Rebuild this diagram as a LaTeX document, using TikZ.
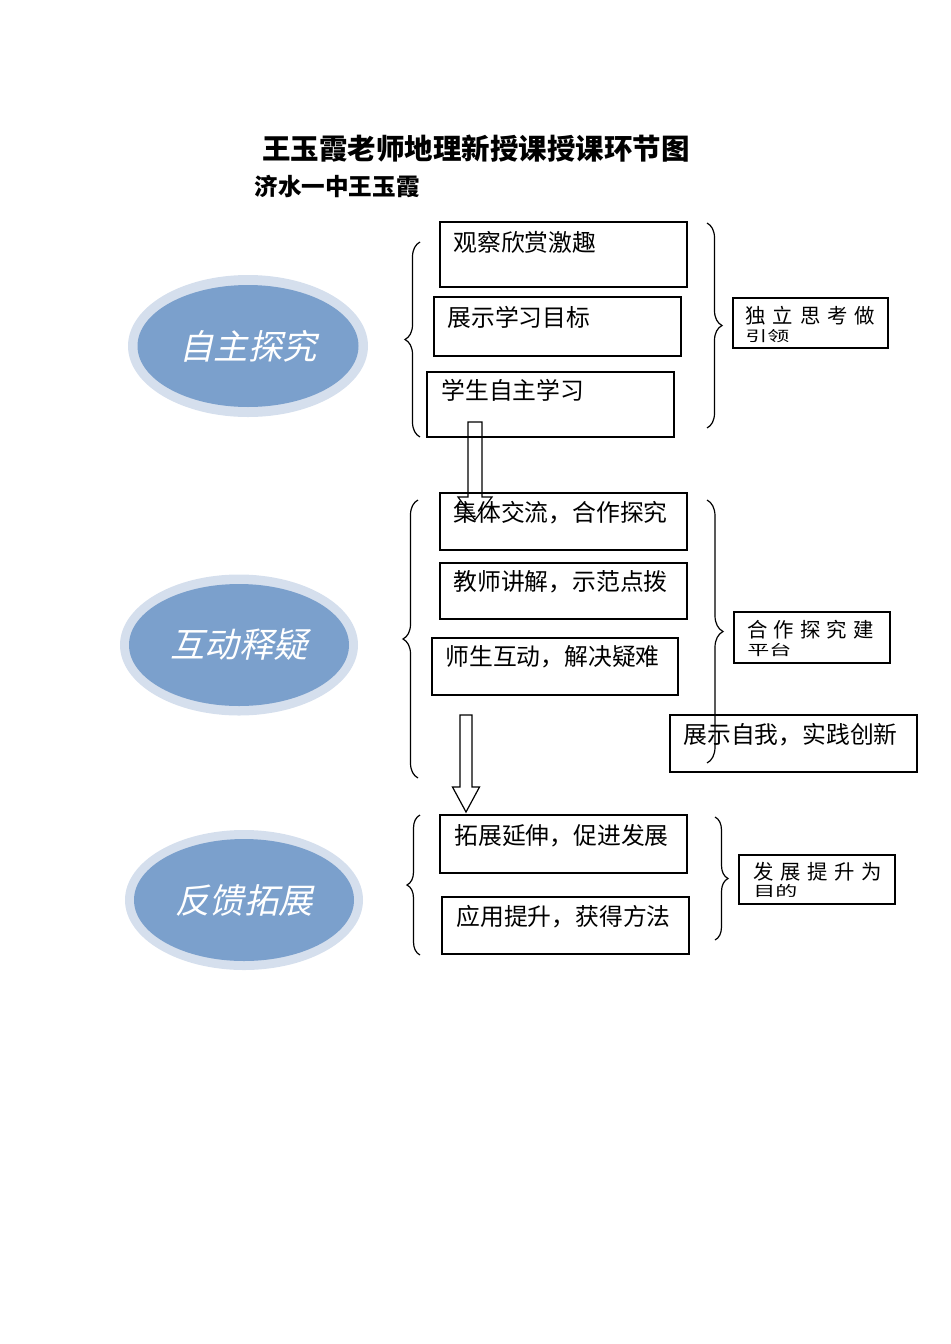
\documentclass[tikz,border=0pt]{standalone}
\usepackage{fontspec}
\usepackage{graphicx}
\setmainfont{Noto Sans CJK SC}
\newfontfamily\slcjk[FakeSlant=0.22]{Noto Sans CJK SC}
\usetikzlibrary{shapes.geometric,fit,calc,decorations.pathreplacing}
\definecolor{ringc}{RGB}{213,223,237}
\definecolor{innerc}{RGB}{123,160,204}
\begin{document}
\begin{tikzpicture}[x=0.5pt,y=-0.5pt,
  box/.style={draw, line width=0.6pt, inner sep=0pt},
  txt/.style={anchor=west, inner sep=0pt, font=\fontsize{11.9}{13}\selectfont},
  ring/.style={ellipse, fill=ringc, inner sep=0pt},
  core/.style={ellipse, fill=innerc, inner sep=0pt, text=white, font=\slcjk\fontsize{17.2}{19}\selectfont},
  lbrace/.style={decorate, decoration={brace, amplitude=7.5pt}, line width=0.6pt},
  harrow/.style={draw, line width=0.6pt, line join=miter}
]
\useasboundingbox (0,0) rectangle (950,1344);

% titles
\node[inner sep=0pt, font=\bfseries\fontsize{14.25}{16}\selectfont] (title) at (476,149) {王玉霞老师地理新授课授课环节图};
\node[anchor=west, inner sep=0pt, font=\bfseries\fontsize{11.8}{13}\selectfont] (sub) at (254,186) {济水一中王玉霞};

% ellipses
\node[ring, minimum width=120pt, minimum height=71pt] (e1r) at (248,346) {};
\node[core, minimum width=110.5pt, minimum height=61pt] (e1) at (e1r) {自主探究};
\node[ring, minimum width=119pt, minimum height=70.5pt] (e2r) at (239,645) {};
\node[core, minimum width=110pt, minimum height=61pt] (e2) at (e2r) {互动释疑};
\node[ring, minimum width=119pt, minimum height=70pt] (e3r) at (244,900) {};
\node[core, minimum width=110pt, minimum height=61pt] (e3) at (e3r) {反馈拓展};

% section 1 boxes
\node[box, fit={(440,222) (687,287)}] (b1) {};
\node[txt] (b1t) at (453,242) {观察欣赏激趣};
\node[box, fit={(434,297) (681,356)}] (b2) {};
\node[txt] (b2t) at (447,317) {展示学习目标};
\node[box, fit={(427,372) (674,437)}] (b3) {};
\node[txt] (b3t) at (441,390) {学生自主学习};

% section 2 boxes
\node[box, fit={(440,493) (687,550)}] (c1) {};
\node[txt] (c1t) at (453,513) {集体交流，合作探究};
\node[box, fit={(440,563) (687,619)}] (c2) {};
\node[txt] (c2t) at (453,582) {教师讲解，示范点拨};
\node[box, fit={(432,638) (678,695)}] (c3) {};
\node[txt] (c3t) at (445,657) {师生互动，解决疑难};
\node[box, fit={(670,715) (917,772)}] (c4) {};
\node[txt] (c4t) at (683,735) {展示自我，实践创新};

% section 3 boxes
\node[box, fit={(440,815) (687,873)}] (d1) {};
\node[txt] (d1t) at (454,836) {拓展延伸，促进发展};
\node[box, fit={(442,897) (689,954)}] (d2) {};
\node[txt] (d2t) at (456,917) {应用提升，获得方法};

% side boxes
\node[box, fit={(733,298) (888,348)}] (s1) {};
\node[anchor=west, inner sep=0pt, font=\fontsize{10.2}{11}\selectfont] (s1a) at (745,316) {\hbox to 65pt{独\hfil 立\hfil 思\hfil 考\hfil 做}};
\node[anchor=west, inner sep=0pt, font=\fontsize{11}{10}\selectfont] (s1b) at (745,336) {\scalebox{1}[0.65]{引领}};
\node[box, fit={(734,612) (890,663)}] (s2) {};
\node[anchor=west, inner sep=0pt, font=\fontsize{10.2}{11}\selectfont] (s2a) at (747,630) {\hbox to 63pt{合\hfil 作\hfil 探\hfil 究\hfil 建}};
\node[anchor=west, inner sep=0pt, font=\fontsize{11}{10}\selectfont] (s2b) at (747,650) {\scalebox{1}[0.65]{平台}};
\node[box, fit={(739,855) (895,904)}] (s3) {};
\node[anchor=west, inner sep=0pt, font=\fontsize{10.2}{11}\selectfont] (s3a) at (753,872) {\hbox to 64.5pt{发\hfil 展\hfil 提\hfil 升\hfil 为}};
\node[anchor=west, inner sep=0pt, font=\fontsize{11}{10}\selectfont] (s3b) at (753,891) {\scalebox{1}[0.65]{目的}};

% braces
\coordinate (l1a) at (420,437); \coordinate (l1b) at (420,242);
\draw[lbrace] (l1a) -- (l1b);
\coordinate (r1a) at (707,223); \coordinate (r1b) at (707,428);
\draw[lbrace] (r1a) -- (r1b);
\coordinate (l2a) at (418,778); \coordinate (l2b) at (418,500);
\draw[lbrace, decoration={aspect=0.5}] (l2a) -- (l2b);
\coordinate (r2a) at (707,500); \coordinate (r2b) at (707,763);
\draw[lbrace, decoration={brace, amplitude=8pt, aspect=0.5}] (r2a) -- (r2b);
\coordinate (l3a) at (420,955); \coordinate (l3b) at (420,815);
\draw[lbrace, decoration={brace, amplitude=6.5pt}] (l3a) -- (l3b);
\coordinate (r3a) at (715,817); \coordinate (r3b) at (715,940);
\draw[lbrace, decoration={brace, amplitude=6.5pt}] (r3a) -- (r3b);

% hollow arrows
\coordinate (a1s) at (475,422); \coordinate (a1e) at (475,520);
\draw[harrow] ($(a1s)+(-7,0)$) -- ($(a1e)+(-7,-23)$) -- ($(a1e)+(-17,-23)$) -- (a1e)
  -- ($(a1e)+(17,-23)$) -- ($(a1e)+(7,-23)$) -- ($(a1s)+(7,0)$) -- cycle;
\coordinate (a2s) at (466,715); \coordinate (a2e) at (466,812);
\draw[harrow] ($(a2s)+(-6,0)$) -- ($(a2e)+(-6,-25)$) -- ($(a2e)+(-13.5,-25)$) -- (a2e)
  -- ($(a2e)+(13.5,-25)$) -- ($(a2e)+(6,-25)$) -- ($(a2s)+(6,0)$) -- cycle;
\end{tikzpicture}
\end{document}
